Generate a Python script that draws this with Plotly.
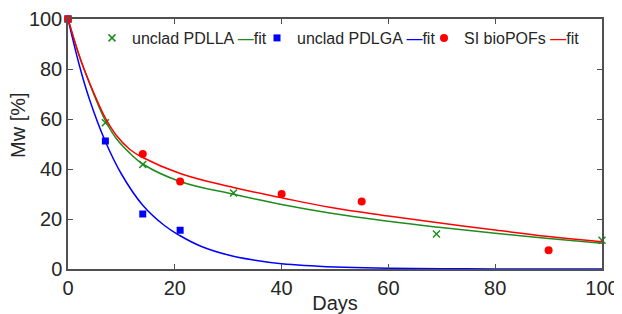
import plotly.graph_objects as go

# measured data
pdlla_days = [0, 7, 14, 31, 69, 100]
pdlla_mw = [100, 58.5, 41.8, 30.4, 14.0, 11.5]
pdlga_days = [0, 7, 14, 21]
pdlga_mw = [100, 51.2, 22.0, 15.5]
si_days = [0, 14, 21, 40, 55, 90]
si_mw = [100, 46.0, 35.0, 30.0, 27.0, 7.5]

# fit curves
fit_pdlla_days = [0, 1, 2, 3, 5, 7, 9, 11.6, 14, 21, 31, 40, 49, 60, 69, 80, 90, 100]
fit_pdlla_mw = [100, 92.8, 86.0, 80.0, 69.0, 59.3, 52.3, 46.3, 42.0, 35.0, 29.9, 25.8, 22.4, 19.1, 16.8, 14.3, 12.2, 10.3]
fit_pdlga_days = [0, 2, 4, 7, 10, 14, 18, 21, 25, 30, 35, 40, 50, 60, 70, 80, 100]
fit_pdlga_mw = [100, 82.5, 68.0, 51.0, 38.0, 25.5, 17.5, 13.3, 9.0, 5.6, 3.5, 2.1, 0.8, 0.3, 0.1, 0.05, 0.0]
fit_si_days = [0, 1, 2, 3, 5, 7, 9, 11.6, 14, 21, 31, 40, 49, 60, 69, 80, 90, 100]
fit_si_mw = [100, 92.8, 86.0, 80.0, 69.6, 60.4, 53.6, 47.8, 44.6, 38.2, 32.6, 28.5, 24.7, 21.2, 18.6, 15.6, 13.0, 10.9]

x_ticks = [0, 20, 40, 60, 80, 100]
y_ticks = [0, 20, 40, 60, 80, 100]

GREEN = "#1e8c1e"
BLUE = "#0000ff"
RED = "#ff0000"
FONT = "Liberation Sans, Arial"
TXT = "#262626"


def label(name, color):
    return f"{name} <span style='color:{color}'>—</span>fit"


fig = go.Figure()
fig.add_trace(go.Scatter(x=fit_pdlla_days, y=fit_pdlla_mw, mode="lines", showlegend=False,
                         line=dict(color=GREEN, width=1.5, shape="spline", smoothing=1.2)))
fig.add_trace(go.Scatter(x=pdlla_days, y=pdlla_mw, mode="markers", name=label("unclad PDLLA", GREEN),
                         legend="legend",
                         marker=dict(symbol="x-thin", size=7, line=dict(color=GREEN, width=1.5), color=GREEN),
                         cliponaxis=False))
fig.add_trace(go.Scatter(x=fit_pdlga_days, y=fit_pdlga_mw, mode="lines", showlegend=False,
                         line=dict(color=BLUE, width=1.5, shape="spline", smoothing=1.2)))
fig.add_trace(go.Scatter(x=pdlga_days, y=pdlga_mw, mode="markers", name=label("unclad PDLGA", BLUE),
                         legend="legend2",
                         marker=dict(symbol="square", size=7, color=BLUE), cliponaxis=False))
fig.add_trace(go.Scatter(x=fit_si_days, y=fit_si_mw, mode="lines", showlegend=False,
                         line=dict(color=RED, width=1.5, shape="spline", smoothing=1.2)))
fig.add_trace(go.Scatter(x=si_days, y=si_mw, mode="markers", name=label("SI bioPOFs", RED),
                         legend="legend3",
                         marker=dict(symbol="circle", size=8, color=RED), cliponaxis=False))

axis_common = dict(showgrid=False, zeroline=False, showline=True, mirror="ticks",
                   linecolor="#505050", linewidth=1.5, ticks="inside", ticklen=5,
                   tickcolor="#505050", tickwidth=1, automargin=False,
                   tickfont=dict(family=FONT, size=20, color=TXT))

# page has an 8px body margin, so figure is a bit smaller than the window
FIG_W, FIG_H = 614, 306
L, R, T, B = 60, 20, 11, 45
W = FIG_W - L - R
H = FIG_H - T - B
OFF = 8


def lx(px):
    return (px - OFF - L) / W


def ly(py):
    return (FIG_H - B - (py - OFF)) / H


leg_common = dict(orientation="h", xanchor="left", yanchor="middle", y=ly(38),
                  font=dict(family=FONT, size=16, color=TXT), bgcolor="rgba(0,0,0,0)",
                  itemwidth=30, borderwidth=0)

fig.update_layout(
    width=FIG_W, height=FIG_H,
    margin=dict(l=L, r=R, t=T, b=B),
    paper_bgcolor="white", plot_bgcolor="white",
    font=dict(family=FONT, color=TXT),
    xaxis=dict(range=[0, 100], tickvals=x_ticks, **axis_common,
               title=dict(text="Days", font=dict(size=20, color=TXT), standoff=2)),
    yaxis=dict(range=[0, 100], tickvals=y_ticks, **axis_common),
    legend=dict(x=lx(92), **leg_common),
    legend2=dict(x=lx(257), **leg_common),
    legend3=dict(x=lx(424), **leg_common),
    annotations=[dict(text="Mw [%]", textangle=-90, xref="paper", yref="paper",
                      x=lx(18), y=ly(125), xanchor="center", yanchor="middle",
                      showarrow=False, font=dict(family=FONT, size=20, color=TXT))],
)

fig.write_html("out.html")
